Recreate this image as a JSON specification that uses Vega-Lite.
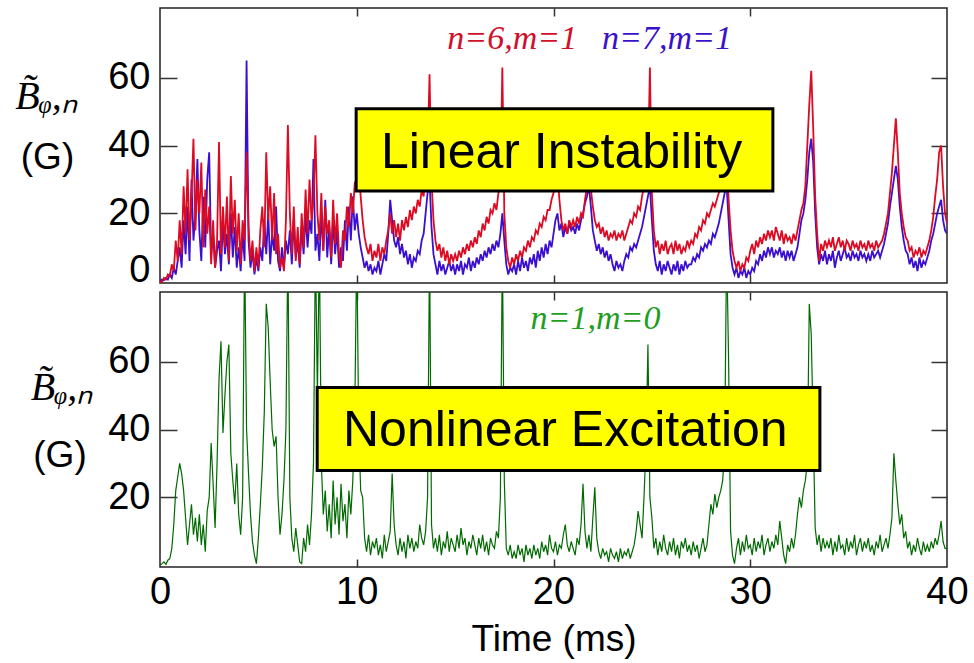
{
"$schema": "https://vega.github.io/schema/vega-lite/v6.json",
"padding": {"left": 13, "top": 6, "right": 5, "bottom": 5},
"bounds": "flush",
"spacing": 9,
"config": {
  "view": {"stroke": "#222", "strokeWidth": 1.5},
  "axis": {"grid": false, "domain": false, "tickColor": "#333", "tickWidth": 1.5, "labelColor": "#000", "titleColor": "#000", "labelFont": "Liberation Sans", "titleFont": "Liberation Sans", "titleFontWeight": "normal", "labelFlush": false, "labelOverlap": false}
},
"datasets": {
"sig": [
{"t":0,"r":0,"b":0,"g":0},{"t":0.1,"r":-0.3,"b":0.5,"g":0.5},{"t":0.2,"r":1,"b":0.3,"g":1},{"t":0.3,"r":0.5,"b":1,"g":0.3},{"t":0.4,"r":2,"b":0.5,"g":1.5},{"t":0.5,"r":1.5,"b":2,"g":2},{"t":0.6,"r":5,"b":1,"g":5},{"t":0.7,"r":3,"b":4,"g":12},{"t":0.8,"r":12,"b":2,"g":22},{"t":0.9,"r":6,"b":6,"g":26},
{"t":1,"r":18,"b":10,"g":30},{"t":1.1,"r":8,"b":4,"g":27},{"t":1.2,"r":28,"b":18,"g":22},{"t":1.3,"r":14,"b":8,"g":14},{"t":1.4,"r":33,"b":22,"g":6},{"t":1.5,"r":12,"b":6,"g":12},{"t":1.6,"r":25,"b":30,"g":18},{"t":1.7,"r":42,"b":12,"g":9},{"t":1.8,"r":15,"b":20,"g":14},{"t":1.9,"r":30,"b":36,"g":7},
{"t":2,"r":20,"b":15,"g":15},{"t":2.1,"r":35,"b":6,"g":6},{"t":2.2,"r":10,"b":25,"g":12},{"t":2.3,"r":27,"b":10,"g":4},{"t":2.4,"r":14,"b":30,"g":16},{"t":2.5,"r":22,"b":38,"g":20},{"t":2.6,"r":5,"b":8,"g":36},{"t":2.7,"r":18,"b":14,"g":24},{"t":2.8,"r":4,"b":4,"g":11},{"t":2.9,"r":12,"b":9,"g":30},
{"t":3,"r":41,"b":12,"g":55},{"t":3.1,"r":8,"b":3,"g":66},{"t":3.2,"r":22,"b":18,"g":39},{"t":3.3,"r":10,"b":8,"g":50},{"t":3.4,"r":25,"b":14,"g":60},{"t":3.5,"r":6,"b":5,"g":65},{"t":3.6,"r":31,"b":20,"g":33},{"t":3.7,"r":14,"b":7,"g":25},{"t":3.8,"r":24,"b":16,"g":18},{"t":3.9,"r":9,"b":4,"g":30},
{"t":4,"r":20,"b":10,"g":15},{"t":4.1,"r":5,"b":3,"g":9},{"t":4.2,"r":18,"b":14,"g":20},{"t":4.3,"r":12,"b":6,"g":95},{"t":4.4,"r":38,"b":65,"g":40},{"t":4.5,"r":16,"b":12,"g":27},{"t":4.6,"r":6,"b":4,"g":15},{"t":4.7,"r":12,"b":9,"g":7},{"t":4.8,"r":3,"b":2,"g":3},{"t":4.9,"r":10,"b":7,"g":0.5},
{"t":5,"r":4,"b":3,"g":8},{"t":5.1,"r":15,"b":10,"g":18},{"t":5.2,"r":22,"b":6,"g":29},{"t":5.3,"r":10,"b":18,"g":45},{"t":5.4,"r":38,"b":8,"g":77},{"t":5.5,"r":18,"b":20,"g":70},{"t":5.6,"r":28,"b":5,"g":54},{"t":5.7,"r":12,"b":14,"g":40},{"t":5.8,"r":26,"b":9,"g":35},{"t":5.9,"r":8,"b":22,"g":38},
{"t":6,"r":14,"b":6,"g":20},{"t":6.1,"r":4,"b":3,"g":9},{"t":6.2,"r":7,"b":10,"g":15},{"t":6.3,"r":3,"b":4,"g":25},{"t":6.4,"r":18,"b":12,"g":40},{"t":6.5,"r":46,"b":8,"g":95},{"t":6.6,"r":20,"b":15,"g":20},{"t":6.7,"r":8,"b":5,"g":8},{"t":6.8,"r":22,"b":18,"g":4},{"t":6.9,"r":6,"b":7,"g":11},
{"t":7,"r":16,"b":12,"g":6},{"t":7.1,"r":5,"b":4,"g":1},{"t":7.2,"r":20,"b":16,"g":0.5},{"t":7.3,"r":10,"b":8,"g":8},{"t":7.4,"r":27,"b":20,"g":4},{"t":7.5,"r":14,"b":10,"g":12},{"t":7.6,"r":30,"b":18,"g":6},{"t":7.7,"r":18,"b":14,"g":15},{"t":7.8,"r":24,"b":36,"g":30},{"t":7.9,"r":43,"b":9,"g":95},
{"t":8,"r":20,"b":14,"g":50},{"t":8.1,"r":12,"b":6,"g":95},{"t":8.2,"r":26,"b":20,"g":30},{"t":8.3,"r":9,"b":9,"g":15},{"t":8.4,"r":22,"b":24,"g":22},{"t":8.5,"r":14,"b":7,"g":10},{"t":8.6,"r":18,"b":16,"g":18},{"t":8.7,"r":7,"b":5,"g":8},{"t":8.8,"r":24,"b":18,"g":25},{"t":8.9,"r":11,"b":8,"g":12},
{"t":9,"r":20,"b":15,"g":20},{"t":9.1,"r":8,"b":4,"g":9},{"t":9.2,"r":4,"b":10,"g":24},{"t":9.3,"r":15,"b":6,"g":13},{"t":9.4,"r":12,"b":18,"g":18},{"t":9.5,"r":22,"b":9,"g":8},{"t":9.6,"r":16,"b":22,"g":22},{"t":9.7,"r":26,"b":12,"g":15},{"t":9.8,"r":20,"b":25,"g":25},{"t":9.9,"r":29,"b":15,"g":45},
{"t":10,"r":30,"b":20,"g":95},{"t":10.1,"r":33,"b":14,"g":40},{"t":10.2,"r":25,"b":10,"g":22},{"t":10.3,"r":18,"b":7,"g":20},{"t":10.4,"r":13,"b":4,"g":8},{"t":10.5,"r":10,"b":6,"g":4},{"t":10.6,"r":8,"b":3,"g":9},{"t":10.7,"r":11,"b":5,"g":3},{"t":10.8,"r":6,"b":2,"g":7},{"t":10.9,"r":9,"b":4,"g":5},
{"t":11,"r":7,"b":3,"g":8},{"t":11.1,"r":11,"b":6,"g":3},{"t":11.2,"r":6,"b":2,"g":6},{"t":11.3,"r":10,"b":5,"g":2},{"t":11.4,"r":8,"b":8,"g":9},{"t":11.5,"r":12,"b":6,"g":4},{"t":11.6,"r":15,"b":14,"g":7},{"t":11.7,"r":20,"b":24,"g":10},{"t":11.8,"r":14,"b":18,"g":27},{"t":11.9,"r":18,"b":12,"g":12},
{"t":12,"r":13,"b":10,"g":6},{"t":12.1,"r":17,"b":13,"g":3},{"t":12.2,"r":12,"b":8,"g":8},{"t":12.3,"r":18,"b":11,"g":4},{"t":12.4,"r":15,"b":7,"g":7},{"t":12.5,"r":19,"b":9,"g":2},{"t":12.6,"r":16,"b":5,"g":9},{"t":12.7,"r":21,"b":8,"g":5},{"t":12.8,"r":18,"b":4,"g":8},{"t":12.9,"r":22,"b":7,"g":4},
{"t":13,"r":20,"b":6,"g":7},{"t":13.1,"r":24,"b":9,"g":5},{"t":13.2,"r":22,"b":8,"g":12},{"t":13.3,"r":27,"b":12,"g":8},{"t":13.4,"r":25,"b":14,"g":6},{"t":13.5,"r":33,"b":20,"g":10},{"t":13.6,"r":38,"b":26,"g":20},{"t":13.7,"r":61,"b":30,"g":95},{"t":13.8,"r":30,"b":16,"g":12},{"t":13.9,"r":18,"b":8,"g":5},
{"t":14,"r":12,"b":5,"g":8},{"t":14.1,"r":9,"b":2,"g":4},{"t":14.2,"r":11,"b":6,"g":9},{"t":14.3,"r":7,"b":3,"g":3},{"t":14.4,"r":10,"b":5,"g":7},{"t":14.5,"r":6,"b":2,"g":5},{"t":14.6,"r":9,"b":4,"g":10},{"t":14.7,"r":5,"b":6,"g":4},{"t":14.8,"r":8,"b":3,"g":8},{"t":14.9,"r":6,"b":5,"g":6},
{"t":15,"r":8,"b":2,"g":4},{"t":15.1,"r":6,"b":5,"g":9},{"t":15.2,"r":9,"b":3,"g":5},{"t":15.3,"r":7,"b":6,"g":11},{"t":15.4,"r":10,"b":2,"g":6},{"t":15.5,"r":8,"b":5,"g":8},{"t":15.6,"r":11,"b":4,"g":3},{"t":15.7,"r":9,"b":7,"g":7},{"t":15.8,"r":12,"b":3,"g":5},{"t":15.9,"r":10,"b":6,"g":9},
{"t":16,"r":13,"b":4,"g":6},{"t":16.1,"r":11,"b":7,"g":3},{"t":16.2,"r":15,"b":5,"g":8},{"t":16.3,"r":13,"b":8,"g":5},{"t":16.4,"r":17,"b":6,"g":9},{"t":16.5,"r":15,"b":9,"g":4},{"t":16.6,"r":19,"b":7,"g":7},{"t":16.7,"r":17,"b":10,"g":3},{"t":16.8,"r":21,"b":8,"g":8},{"t":16.9,"r":20,"b":11,"g":6},
{"t":17,"r":23,"b":9,"g":5},{"t":17.1,"r":21,"b":12,"g":10},{"t":17.2,"r":26,"b":10,"g":8},{"t":17.3,"r":28,"b":14,"g":20},{"t":17.4,"r":63,"b":20,"g":95},{"t":17.5,"r":20,"b":12,"g":25},{"t":17.6,"r":10,"b":5,"g":5},{"t":17.7,"r":6,"b":2,"g":3},{"t":17.8,"r":4,"b":4,"g":6},{"t":17.9,"r":7,"b":3,"g":2},
{"t":18,"r":5,"b":5,"g":4},{"t":18.1,"r":8,"b":2,"g":2},{"t":18.2,"r":6,"b":6,"g":6},{"t":18.3,"r":9,"b":3,"g":3},{"t":18.4,"r":7,"b":7,"g":5},{"t":18.5,"r":10,"b":4,"g":1},{"t":18.6,"r":9,"b":6,"g":6},{"t":18.7,"r":12,"b":3,"g":3},{"t":18.8,"r":10,"b":7,"g":5},{"t":18.9,"r":13,"b":5,"g":2},
{"t":19,"r":12,"b":8,"g":6},{"t":19.1,"r":15,"b":4,"g":3},{"t":19.2,"r":14,"b":9,"g":5},{"t":19.3,"r":17,"b":6,"g":2},{"t":19.4,"r":16,"b":10,"g":7},{"t":19.5,"r":19,"b":7,"g":4},{"t":19.6,"r":18,"b":11,"g":6},{"t":19.7,"r":21,"b":8,"g":3},{"t":19.8,"r":21,"b":12,"g":9},{"t":19.9,"r":24,"b":10,"g":5},
{"t":20,"r":26,"b":14,"g":4},{"t":20.1,"r":29,"b":18,"g":7},{"t":20.2,"r":32,"b":20,"g":3},{"t":20.3,"r":24,"b":15,"g":6},{"t":20.4,"r":18,"b":17,"g":5},{"t":20.5,"r":15,"b":13,"g":9},{"t":20.6,"r":17,"b":16,"g":12},{"t":20.7,"r":14,"b":14,"g":6},{"t":20.8,"r":18,"b":17,"g":4},{"t":20.9,"r":16,"b":15,"g":7},
{"t":21,"r":18,"b":16,"g":5},{"t":21.1,"r":16,"b":14,"g":3},{"t":21.2,"r":19,"b":17,"g":8},{"t":21.3,"r":17,"b":15,"g":6},{"t":21.4,"r":20,"b":18,"g":12},{"t":21.5,"r":19,"b":20,"g":24},{"t":21.6,"r":24,"b":23,"g":10},{"t":21.7,"r":28,"b":25,"g":5},{"t":21.8,"r":32,"b":28,"g":9},{"t":21.9,"r":27,"b":22,"g":4},
{"t":22,"r":22,"b":15,"g":14},{"t":22.1,"r":18,"b":12,"g":23},{"t":22.2,"r":16,"b":9,"g":8},{"t":22.3,"r":17,"b":11,"g":4},{"t":22.4,"r":14,"b":8,"g":2},{"t":22.5,"r":16,"b":10,"g":5},{"t":22.6,"r":13,"b":7,"g":3},{"t":22.7,"r":15,"b":9,"g":4},{"t":22.8,"r":12,"b":6,"g":1},{"t":22.9,"r":14,"b":8,"g":5},
{"t":23,"r":13,"b":5,"g":3},{"t":23.1,"r":15,"b":3,"g":2},{"t":23.2,"r":12,"b":6,"g":4},{"t":23.3,"r":14,"b":4,"g":1},{"t":23.4,"r":13,"b":5,"g":5},{"t":23.5,"r":15,"b":3,"g":2},{"t":23.6,"r":12,"b":6,"g":4},{"t":23.7,"r":14,"b":8,"g":3},{"t":23.8,"r":16,"b":7,"g":5},{"t":23.9,"r":18,"b":10,"g":2},
{"t":24,"r":17,"b":9,"g":4},{"t":24.1,"r":20,"b":11,"g":6},{"t":24.2,"r":19,"b":10,"g":10},{"t":24.3,"r":22,"b":12,"g":16},{"t":24.4,"r":21,"b":14,"g":12},{"t":24.5,"r":25,"b":16,"g":8},{"t":24.6,"r":28,"b":19,"g":20},{"t":24.7,"r":30,"b":22,"g":35},{"t":24.8,"r":33,"b":25,"g":65},{"t":24.9,"r":63,"b":28,"g":20},
{"t":25,"r":26,"b":18,"g":14},{"t":25.1,"r":15,"b":9,"g":5},{"t":25.2,"r":10,"b":5,"g":8},{"t":25.3,"r":12,"b":3,"g":3},{"t":25.4,"r":8,"b":6,"g":7},{"t":25.5,"r":11,"b":2,"g":4},{"t":25.6,"r":9,"b":5,"g":9},{"t":25.7,"r":12,"b":3,"g":5},{"t":25.8,"r":8,"b":6,"g":3},{"t":25.9,"r":10,"b":4,"g":7},
{"t":26,"r":11,"b":2,"g":4},{"t":26.1,"r":8,"b":5,"g":8},{"t":26.2,"r":12,"b":3,"g":3},{"t":26.3,"r":9,"b":6,"g":6},{"t":26.4,"r":11,"b":2,"g":2},{"t":26.5,"r":8,"b":5,"g":7},{"t":26.6,"r":10,"b":3,"g":5},{"t":26.7,"r":9,"b":6,"g":8},{"t":26.8,"r":12,"b":4,"g":4},{"t":26.9,"r":10,"b":5,"g":6},
{"t":27,"r":12,"b":5,"g":3},{"t":27.1,"r":11,"b":7,"g":7},{"t":27.2,"r":14,"b":6,"g":4},{"t":27.3,"r":13,"b":8,"g":6},{"t":27.4,"r":16,"b":7,"g":2},{"t":27.5,"r":15,"b":10,"g":5},{"t":27.6,"r":18,"b":9,"g":8},{"t":27.7,"r":17,"b":11,"g":4},{"t":27.8,"r":20,"b":10,"g":6},{"t":27.9,"r":19,"b":12,"g":12},
{"t":28,"r":21,"b":11,"g":18},{"t":28.1,"r":23,"b":14,"g":15},{"t":28.2,"r":22,"b":13,"g":21},{"t":28.3,"r":24,"b":15,"g":17},{"t":28.4,"r":26,"b":17,"g":20},{"t":28.5,"r":28,"b":20,"g":22},{"t":28.6,"r":31,"b":23,"g":25},{"t":28.7,"r":34,"b":26,"g":35},{"t":28.8,"r":36,"b":28,"g":95},{"t":28.9,"r":24,"b":18,"g":60},
{"t":29,"r":15,"b":8,"g":10},{"t":29.1,"r":9,"b":4,"g":3},{"t":29.2,"r":6,"b":2,"g":0.5},{"t":29.3,"r":4,"b":4,"g":5},{"t":29.4,"r":6,"b":1,"g":8},{"t":29.5,"r":3,"b":3,"g":3},{"t":29.6,"r":5,"b":2,"g":7},{"t":29.7,"r":4,"b":4,"g":4},{"t":29.8,"r":7,"b":1,"g":9},{"t":29.9,"r":6,"b":3,"g":5},
{"t":30,"r":9,"b":2,"g":6},{"t":30.1,"r":11,"b":4,"g":3},{"t":30.2,"r":8,"b":3,"g":8},{"t":30.3,"r":12,"b":6,"g":4},{"t":30.4,"r":10,"b":5,"g":7},{"t":30.5,"r":13,"b":8,"g":5},{"t":30.6,"r":11,"b":6,"g":9},{"t":30.7,"r":14,"b":9,"g":3},{"t":30.8,"r":12,"b":7,"g":6},{"t":30.9,"r":15,"b":10,"g":8},
{"t":31,"r":13,"b":8,"g":4},{"t":31.1,"r":15,"b":10,"g":7},{"t":31.2,"r":12,"b":7,"g":5},{"t":31.3,"r":16,"b":9,"g":9},{"t":31.4,"r":14,"b":8,"g":6},{"t":31.5,"r":12,"b":10,"g":13},{"t":31.6,"r":15,"b":7,"g":8},{"t":31.7,"r":11,"b":9,"g":3},{"t":31.8,"r":14,"b":6,"g":0.5},{"t":31.9,"r":12,"b":9,"g":6},
{"t":32,"r":13,"b":7,"g":4},{"t":32.1,"r":11,"b":9,"g":8},{"t":32.2,"r":14,"b":6,"g":5},{"t":32.3,"r":12,"b":8,"g":9},{"t":32.4,"r":15,"b":10,"g":15},{"t":32.5,"r":18,"b":14,"g":20},{"t":32.6,"r":21,"b":18,"g":17},{"t":32.7,"r":23,"b":20,"g":22},{"t":32.8,"r":28,"b":24,"g":25},{"t":32.9,"r":40,"b":30,"g":30},
{"t":33,"r":52,"b":38,"g":77},{"t":33.1,"r":62,"b":42,"g":68},{"t":33.2,"r":45,"b":35,"g":40},{"t":33.3,"r":25,"b":20,"g":11},{"t":33.4,"r":14,"b":10,"g":6},{"t":33.5,"r":6,"b":5,"g":9},{"t":33.6,"r":11,"b":8,"g":4},{"t":33.7,"r":9,"b":6,"g":8},{"t":33.8,"r":12,"b":9,"g":5},{"t":33.9,"r":10,"b":5,"g":7},
{"t":34,"r":12,"b":8,"g":5},{"t":34.1,"r":10,"b":6,"g":8},{"t":34.2,"r":13,"b":9,"g":3},{"t":34.3,"r":9,"b":4,"g":7},{"t":34.4,"r":11,"b":7,"g":4},{"t":34.5,"r":13,"b":9,"g":9},{"t":34.6,"r":10,"b":6,"g":5},{"t":34.7,"r":12,"b":8,"g":6},{"t":34.8,"r":9,"b":10,"g":3},{"t":34.9,"r":12,"b":7,"g":8},
{"t":35,"r":11,"b":8,"g":4},{"t":35.1,"r":9,"b":6,"g":7},{"t":35.2,"r":12,"b":9,"g":5},{"t":35.3,"r":10,"b":7,"g":9},{"t":35.4,"r":11,"b":8,"g":3},{"t":35.5,"r":9,"b":6,"g":6},{"t":35.6,"r":12,"b":9,"g":8},{"t":35.7,"r":10,"b":7,"g":4},{"t":35.8,"r":11,"b":8,"g":7},{"t":35.9,"r":9,"b":6,"g":5},
{"t":36,"r":12,"b":8,"g":8},{"t":36.1,"r":10,"b":6,"g":4},{"t":36.2,"r":11,"b":9,"g":6},{"t":36.3,"r":9,"b":7,"g":3},{"t":36.4,"r":12,"b":8,"g":7},{"t":36.5,"r":10,"b":9,"g":5},{"t":36.6,"r":11,"b":7,"g":9},{"t":36.7,"r":12,"b":9,"g":4},{"t":36.8,"r":14,"b":11,"g":6},{"t":36.9,"r":17,"b":14,"g":8},
{"t":37,"r":20,"b":17,"g":5},{"t":37.1,"r":26,"b":22,"g":9},{"t":37.2,"r":32,"b":26,"g":14},{"t":37.3,"r":40,"b":30,"g":33},{"t":37.4,"r":48,"b":34,"g":25},{"t":37.5,"r":38,"b":30,"g":18},{"t":37.6,"r":26,"b":22,"g":12},{"t":37.7,"r":20,"b":16,"g":15},{"t":37.8,"r":16,"b":12,"g":8},{"t":37.9,"r":13,"b":9,"g":10},
{"t":38,"r":12,"b":8,"g":5},{"t":38.1,"r":9,"b":5,"g":7},{"t":38.2,"r":10,"b":7,"g":3},{"t":38.3,"r":7,"b":4,"g":6},{"t":38.4,"r":9,"b":6,"g":4},{"t":38.5,"r":8,"b":3,"g":8},{"t":38.6,"r":10,"b":7,"g":5},{"t":38.7,"r":7,"b":4,"g":3},{"t":38.8,"r":9,"b":6,"g":7},{"t":38.9,"r":8,"b":5,"g":4},
{"t":39,"r":10,"b":7,"g":6},{"t":39.1,"r":12,"b":9,"g":4},{"t":39.2,"r":15,"b":12,"g":7},{"t":39.3,"r":19,"b":14,"g":5},{"t":39.4,"r":25,"b":17,"g":8},{"t":39.5,"r":30,"b":20,"g":6},{"t":39.6,"r":38,"b":22,"g":9},{"t":39.7,"r":40,"b":24,"g":13},{"t":39.8,"r":28,"b":18,"g":7},{"t":39.9,"r":20,"b":15,"g":5},
{"t":40,"r":17,"b":14,"g":5}
]
},
"vconcat": [
{
  "width": 787, "height": 275,
  "layer": [
    {
      "data": {"name": "sig"},
      "mark": {"type": "line", "color": "#3a0fd0", "strokeWidth": 1.8, "clip": true},
      "encoding": {
        "x": {"field": "t", "type": "quantitative", "scale": {"domain": [0, 40], "nice": false},
              "axis": {"orient": "bottom", "values": [0, 10, 20, 30, 40], "labels": false, "ticks": false, "tickSize": 0, "title": null}},
        "y": {"field": "b", "type": "quantitative", "scale": {"domain": [-0.5, 80.5], "nice": false, "zero": false},
              "axis": {"orient": "left", "values": [0, 20, 40, 60], "ticks": false, "tickSize": 0, "labelPadding": 10, "labelFontSize": 38,
                       "labelBaseline": {"condition": {"test": "datum.value === 0", "value": "alphabetic"}, "value": "middle"},
                       "title": "(G)", "titleFontSize": 37, "titleAngle": 0, "titleAlign": "center", "titleBaseline": "alphabetic", "titleX": -113, "titleY": 160}}
      }
    },
    {
      "data": {"name": "sig"},
      "mark": {"type": "line", "color": "#dc0a22", "strokeWidth": 1.8, "clip": true},
      "encoding": {
        "x": {"field": "t", "type": "quantitative", "scale": {"domain": [0, 40], "nice": false},
              "axis": {"orient": "top", "values": [10, 20, 30], "labels": false, "tickSize": -8, "title": null}},
        "y": {"field": "r", "type": "quantitative", "scale": {"domain": [-0.5, 80.5], "nice": false, "zero": false},
              "axis": {"orient": "right", "values": [20, 40, 60], "labels": false, "tickSize": -16, "title": null}}
      }
    },
    {
      "data": {"values": [{"x1": 9.97, "x2": 31.15, "y1": 26.6, "y2": 50.8}]},
      "mark": {"type": "rect", "fill": "#ffff00", "stroke": "#000", "strokeWidth": 3},
      "encoding": {
        "x": {"field": "x1", "type": "quantitative", "scale": {"domain": [0, 40], "nice": false},
              "axis": {"orient": "bottom", "values": [10, 20, 30], "labels": false, "tickSize": -8, "title": null}},
        "x2": {"field": "x2"},
        "y": {"field": "y1", "type": "quantitative", "scale": {"domain": [-0.5, 80.5], "nice": false, "zero": false},
              "axis": {"orient": "left", "values": [20, 40, 60], "labels": false, "tickSize": -17,
                       "title": "B\u0303\u1d69,\u2099", "titleFont": "Liberation Serif", "titleFontStyle": "italic", "titleFontSize": 40, "titleAngle": 0, "titleAlign": "center", "titleBaseline": "alphabetic", "titleX": -114, "titleY": 100}},
        "y2": {"field": "y2"}
      }
    },
    {
      "data": {"values": [{"t": 20.41, "y": 33.4, "label": "Linear Instability"}]},
      "mark": {"type": "text", "font": "Liberation Sans", "fontSize": 50, "align": "center", "baseline": "alphabetic", "color": "#000"},
      "encoding": {
        "x": {"field": "t", "type": "quantitative", "scale": {"domain": [0, 40], "nice": false}, "axis": null},
        "y": {"field": "y", "type": "quantitative", "scale": {"domain": [-0.5, 80.5], "nice": false, "zero": false}, "axis": null},
        "text": {"field": "label"}
      }
    },
    {
      "data": {"values": [{"t": 14.6, "y": 68.4, "label": "n=6,m=1"}, {"t": 22.47, "y": 68.5, "label": "n=7,m=1"}]},
      "mark": {"type": "text", "font": "Liberation Serif", "fontStyle": "italic", "fontSize": 34, "align": "left", "baseline": "alphabetic"},
      "encoding": {
        "x": {"field": "t", "type": "quantitative", "scale": {"domain": [0, 40], "nice": false}, "axis": null},
        "y": {"field": "y", "type": "quantitative", "scale": {"domain": [-0.5, 80.5], "nice": false, "zero": false}, "axis": null},
        "text": {"field": "label"},
        "color": {"field": "label", "type": "nominal", "scale": {"domain": ["n=6,m=1", "n=7,m=1"], "range": ["#d0102a", "#3a10cc"]}, "legend": null}
      }
    }
  ],
  "resolve": {"axis": {"x": "independent", "y": "independent"}}
},
{
  "width": 787, "height": 275,
  "layer": [
    {
      "data": {"name": "sig"},
      "mark": {"type": "line", "color": "#006a00", "strokeWidth": 1.2, "clip": true},
      "encoding": {
        "x": {"field": "t", "type": "quantitative", "scale": {"domain": [0, 40], "nice": false},
              "axis": {"orient": "bottom", "values": [0, 10, 20, 30, 40], "ticks": false, "tickSize": 0, "labelPadding": 36, "labelFontSize": 38, "labelBaseline": "alphabetic",
                       "title": "Time (ms)", "titleFontSize": 37, "titleBaseline": "alphabetic", "titleAlign": "center", "titleX": 393.5, "titleY": 83.5}},
        "y": {"field": "g", "type": "quantitative", "scale": {"domain": [-0.5, 80.5], "nice": false, "zero": false},
              "axis": {"orient": "left", "values": [20, 40, 60], "ticks": false, "tickSize": 0, "labelPadding": 10, "labelFontSize": 38, "labelBaseline": "middle",
                       "title": "(G)", "titleFontSize": 37, "titleAngle": 0, "titleAlign": "center", "titleBaseline": "alphabetic", "titleX": -100.5, "titleY": 174}}
      }
    },
    {
      "data": {"values": [{"x1": 7.99, "x2": 33.54, "y1": 27.9, "y2": 52.4}]},
      "mark": {"type": "rect", "fill": "#ffff00", "stroke": "#000", "strokeWidth": 3},
      "encoding": {
        "x": {"field": "x1", "type": "quantitative", "scale": {"domain": [0, 40], "nice": false},
              "axis": {"orient": "bottom", "values": [10, 20, 30], "labels": false, "tickSize": -8, "title": null}},
        "x2": {"field": "x2"},
        "y": {"field": "y1", "type": "quantitative", "scale": {"domain": [-0.5, 80.5], "nice": false, "zero": false},
              "axis": {"orient": "left", "values": [20, 40, 60], "labels": false, "tickSize": -17,
                       "title": "B\u0303\u1d69,\u2099", "titleFont": "Liberation Serif", "titleFontStyle": "italic", "titleFontSize": 40, "titleAngle": 0, "titleAlign": "center", "titleBaseline": "alphabetic", "titleX": -98.5, "titleY": 107}},
        "y2": {"field": "y2"}
      }
    },
    {
      "data": {"values": [{"t": 20.6, "y": 35.1, "label": "Nonlinear Excitation"}]},
      "mark": {"type": "text", "font": "Liberation Sans", "fontSize": 50, "align": "center", "baseline": "alphabetic", "color": "#000"},
      "encoding": {
        "x": {"field": "t", "type": "quantitative", "scale": {"domain": [0, 40], "nice": false}, "axis": null},
        "y": {"field": "y", "type": "quantitative", "scale": {"domain": [-0.5, 80.5], "nice": false, "zero": false}, "axis": null},
        "text": {"field": "label"}
      }
    },
    {
      "data": {"values": [{"t": 18.83, "y": 69.6, "label": "n=1,m=0"}]},
      "mark": {"type": "text", "font": "Liberation Serif", "fontStyle": "italic", "fontSize": 34, "align": "left", "baseline": "alphabetic", "color": "#1f9e1f"},
      "encoding": {
        "x": {"field": "t", "type": "quantitative", "scale": {"domain": [0, 40], "nice": false},
              "axis": {"orient": "top", "values": [10, 20, 30], "labels": false, "tickSize": -8, "title": null}},
        "y": {"field": "y", "type": "quantitative", "scale": {"domain": [-0.5, 80.5], "nice": false, "zero": false},
              "axis": {"orient": "right", "values": [20, 40, 60], "labels": false, "tickSize": -16, "title": null}},
        "text": {"field": "label"}
      }
    }
  ],
  "resolve": {"axis": {"x": "independent", "y": "independent"}}
}
]
}
